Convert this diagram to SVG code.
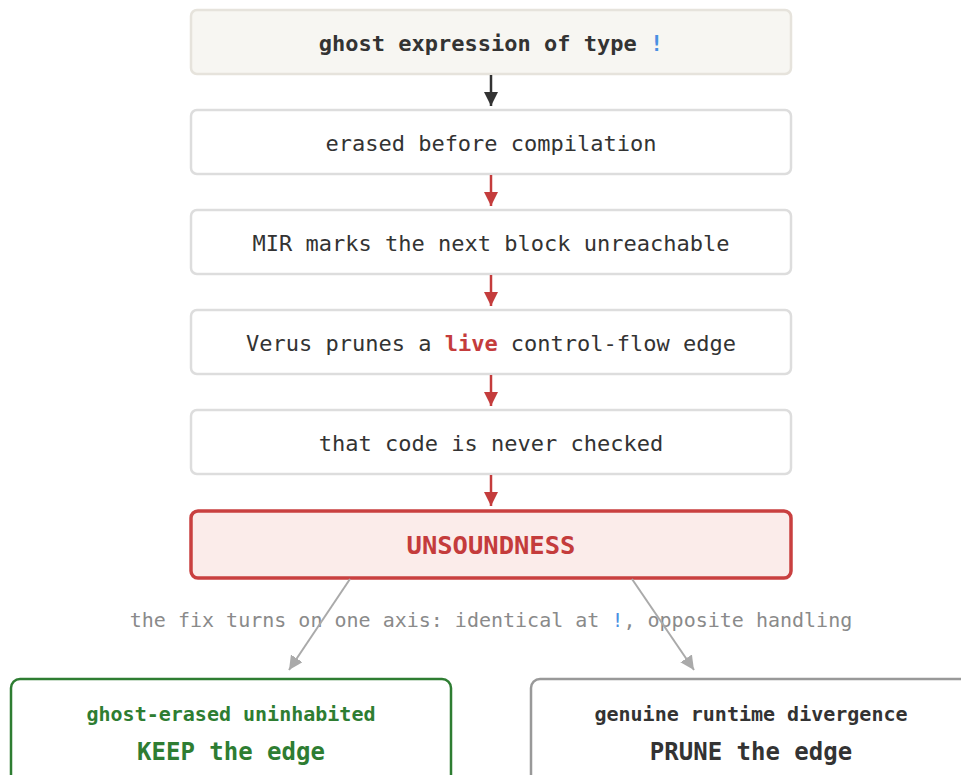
<svg xmlns="http://www.w3.org/2000/svg" width="961" height="775" viewBox="0 0 961 775">
<defs>
<style>
text{font-family:"DejaVu Sans Mono","Liberation Mono",monospace;text-anchor:middle}
.box{fill:#ffffff;stroke:#dddddd;stroke-width:2.5}
.t{font-size:22px;fill:#333333}
.b{font-weight:bold}
.red{fill:#c43c3c}
.blue{fill:#4a90e2}
</style>
<marker id="hr" viewBox="0 0 14 14" markerWidth="14" markerHeight="14" refX="14" refY="7" orient="auto" markerUnits="userSpaceOnUse"><path d="M0,0 L14,7 L0,14 Z" fill="#c43c3c"/></marker>
<marker id="hg" viewBox="0 0 14 14" markerWidth="14" markerHeight="14" refX="14" refY="7" orient="auto" markerUnits="userSpaceOnUse"><path d="M0,0 L14,7 L0,14 Z" fill="#aaaaaa"/></marker>
<marker id="hb" viewBox="0 0 14 14" markerWidth="14" markerHeight="14" refX="14" refY="7" orient="auto" markerUnits="userSpaceOnUse"><path d="M0,0 L14,7 L0,14 Z" fill="#333333"/></marker>
</defs>

<g id="n1">
<rect x="191" y="10" width="600" height="64" rx="6" fill="#f7f6f2" stroke="#e6e3dc" stroke-width="2.5"/>
<text x="491" y="51" class="t b">ghost expression of type <tspan class="blue">!</tspan></text>
</g>
<g id="n2">
<rect x="191" y="110" width="600" height="64" rx="6" class="box"/>
<text x="491" y="151" class="t">erased before compilation</text>
</g>
<g id="n3">
<rect x="191" y="210" width="600" height="64" rx="6" class="box"/>
<text x="491" y="251" class="t">MIR marks the next block unreachable</text>
</g>
<g id="n4">
<rect x="191" y="310" width="600" height="64" rx="6" class="box"/>
<text x="491" y="351" class="t">Verus prunes a <tspan class="b red">live</tspan> control-flow edge</text>
</g>
<g id="n5">
<rect x="191" y="410" width="600" height="64" rx="6" class="box"/>
<text x="491" y="451" class="t">that code is never checked</text>
</g>
<g id="n6">
<rect x="191" y="511" width="600" height="67" rx="7" fill="#fbecea" stroke="#c94040" stroke-width="3.5"/>
<text x="491" y="554" class="b red" style="font-size:25.5px">UNSOUNDNESS</text>
</g>
<g id="n7">
<rect x="11" y="679" width="440" height="110" rx="9" fill="#ffffff" stroke="#2e7d32" stroke-width="2.5"/>
<text x="231" y="721" class="b" style="font-size:20px;fill:#2e7d32">ghost-erased uninhabited</text>
<text x="231" y="760" class="b" style="font-size:24px;fill:#2e7d32">KEEP the edge</text>
</g>
<g id="n8">
<rect x="531" y="679" width="440" height="110" rx="9" fill="#ffffff" stroke="#999999" stroke-width="2.5"/>
<text x="751" y="721" class="b" style="font-size:20px;fill:#333333">genuine runtime divergence</text>
<text x="751" y="760" class="b" style="font-size:24px;fill:#333333">PRUNE the edge</text>
</g>

<text x="491" y="627" style="font-size:20px;fill:#8a8a8a">the fix turns on one axis: identical at <tspan class="blue">!</tspan>, opposite handling</text>

<g id="connectors" fill="none" stroke-width="2.5">
<line x1="491" y1="75" x2="491" y2="106" stroke="#333333" marker-end="url(#hb)"/>
<line x1="491" y1="175" x2="491" y2="206" stroke="#c43c3c" marker-end="url(#hr)"/>
<line x1="491" y1="275" x2="491" y2="306" stroke="#c43c3c" marker-end="url(#hr)"/>
<line x1="491" y1="375" x2="491" y2="406" stroke="#c43c3c" marker-end="url(#hr)"/>
<line x1="491" y1="475" x2="491" y2="506" stroke="#c43c3c" marker-end="url(#hr)"/>
<line x1="350" y1="579" x2="289" y2="670" stroke="#aaaaaa" stroke-width="2" marker-end="url(#hg)"/>
<line x1="632" y1="579" x2="694" y2="670" stroke="#aaaaaa" stroke-width="2" marker-end="url(#hg)"/>
</g>
</svg>
